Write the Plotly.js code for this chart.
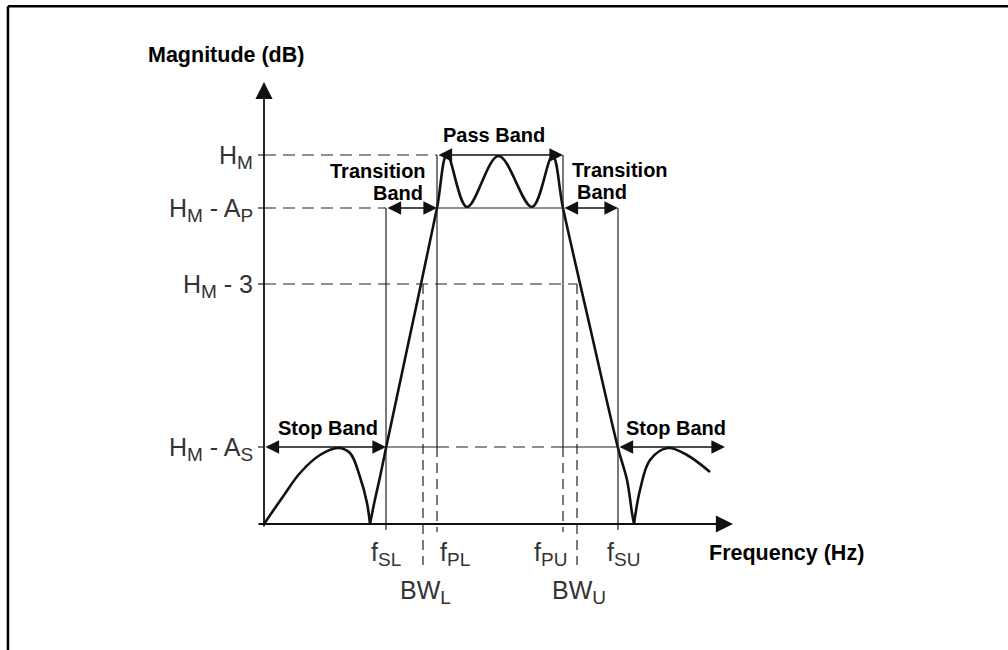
<!DOCTYPE html>
<html>
<head>
<meta charset="utf-8">
<script src="https://cdn.plot.ly/plotly-3.0.1.min.js"></script>
<style>html,body{margin:0;padding:0;background:#fff;}#chart{width:1008px;height:650px;}</style>
</head>
<body>
<div id="chart"></div>
<script>
// ---- data (schematic units: x = frequency, y = magnitude) ----
const levelLabels = ['H<sub>M</sub>', 'H<sub>M</sub> - A<sub>P</sub>', 'H<sub>M</sub> - 3', 'H<sub>M</sub> - A<sub>S</sub>'];
const levelValues = [36.9, 31.6, 24.0, 7.7];
const freqLabels = ['f<sub>SL</sub>', 'f<sub>PL</sub>', 'f<sub>PU</sub>', 'f<sub>SU</sub>'];
const freqValues = [12.2, 17.3, 29.9, 35.4];
const bwLabels = ['BW<sub>L</sub>', 'BW<sub>U</sub>'];
const bwValues = [15.9, 31.3];
const axisTopY = 44.2;
const axisRightX = 46.9;
const stopBandEndX = 46.1;

const leftLobeX = [0, 1.8, 3.6, 5.6, 7.4, 8.6, 9.6, 10.3, 10.6];
const leftLobeY = [0, 2.6, 5.1, 6.9, 7.6, 7.1, 4.7, 2.1, 0];
const mainX = [10.6, 11.0, 11.6, 12.2, 14.8, 17.3, 18.3, 20.3, 23.45, 26.8, 28.85, 29.9, 32.6, 35.4, 36.3, 36.8, 37.0];
const mainY = [0, 2.0, 4.7, 7.6, 19.8, 31.6, 36.9, 31.7, 36.8, 31.7, 36.8, 31.6, 19.7, 7.6, 4.4, 1.1, 0];
const rightLobeX = [37.0, 37.6, 38.6, 40.4, 42.3, 44.6];
const rightLobeY = [0, 3.4, 6.4, 7.6, 6.9, 5.2];

// ---- styles ----
const INK = '#111';
const THIN = '#222';
const FONT = 'Arial, "Liberation Sans", sans-serif';
const HM = levelValues[0], AP = levelValues[1], M3 = levelValues[2], AS = levelValues[3];
const SL = freqValues[0], PL = freqValues[1], PU = freqValues[2], SU = freqValues[3];

const curveLine = {color: INK, width: 2.6, shape: 'spline', smoothing: 1};
const traces = [
  {x: leftLobeX, y: leftLobeY, mode: 'lines', line: curveLine, hoverinfo: 'skip'},
  {x: mainX, y: mainY, mode: 'lines', line: curveLine, hoverinfo: 'skip'},
  {x: rightLobeX, y: rightLobeY, mode: 'lines', line: curveLine, hoverinfo: 'skip'}
];

const shapes = [];
function hline(x0, x1, y, dash) {
  shapes.push({type: 'line', xref: 'x', yref: 'y', x0: x0, x1: x1, y0: y, y1: y,
    line: {color: THIN, width: 1.2, dash: dash || 'solid'}});
}
function vline(x, y0, y1, dash) {
  shapes.push({type: 'line', xref: 'x', yref: 'y', x0: x, x1: x, y0: y0, y1: y1,
    line: {color: THIN, width: 1.2, dash: dash || 'solid'}});
}
const D = '12px,7px';
const DV = '10px,6px';
hline(0, PL, HM, D);
hline(0, SL, AP, D);
hline(PL, PU, AP);
hline(0, bwValues[1], M3, D);
hline(SL, PL, AS);
hline(PL, PU, AS, D);
hline(PU, SU, AS);
vline(SL, AP, -0.6);
vline(SU, AP, -0.6);
vline(PL, HM, AS);
vline(PU, HM, AS);
vline(PL, AS, -0.8, DV);
vline(PU, AS, -0.8, DV);
bwValues.forEach(v => vline(v, M3, -4.1, DV));
levelValues.forEach(v => hline(-0.6, 0, v));
// frame
shapes.push({type: 'line', xref: 'paper', yref: 'paper', x0: 0.0079, x1: 1, y0: 0.9905, y1: 0.9905, line: {color: '#000', width: 2.5}});
shapes.push({type: 'line', xref: 'paper', yref: 'paper', x0: 0.0079, x1: 0.0079, y0: 0, y1: 0.9905, line: {color: '#000', width: 2.5}});

const annotations = [];
function arrow(x0, y0, x1, y1, both, w, s) {
  annotations.push({x: x1, y: y1, ax: x0, ay: y0, xref: 'x', yref: 'y', axref: 'x', ayref: 'y',
    text: '', showarrow: true, arrowhead: 2, startarrowhead: 2, arrowside: both ? 'end+start' : 'end',
    arrowwidth: w, arrowsize: s, startarrowsize: s, arrowcolor: INK, standoff: 0, startstandoff: 0});
}
arrow(0, -0.4, 0, axisTopY, false, 1.8, 1.9);
arrow(-0.7, 0, axisRightX, 0, false, 1.8, 1.9);
arrow(PL, HM, PU, HM, true, 1.6, 1.7);
arrow(SL, AP, PL, AP, true, 1.6, 1.7);
arrow(PU, AP, SU, AP, true, 1.6, 1.7);
arrow(0, AS, SL, AS, true, 1.6, 1.7);
arrow(SU, AS, stopBandEndX, AS, true, 1.6, 1.7);

// enlarge subscripts to match the reference's wide sub-letters
function bigSub(t) { return t.replace(/<sub>(.*?)<\/sub>/g, '<sub><span style="font-size:19px">$1</span></sub>'); }
const regFont = {family: FONT, size: 25, color: '#333'};
levelLabels.forEach((t, i) => annotations.push({x: 0, y: levelValues[i], xref: 'x', yref: 'y', text: bigSub(t),
  showarrow: false, xanchor: 'right', yanchor: 'middle', xshift: -9, yshift: -2, font: regFont}));
const freqAnchor = ['center', 'left', 'right', 'center'];
const freqShift = [0, 1, 6, 5];
freqLabels.forEach((t, i) => annotations.push({x: freqValues[i], y: 0, xref: 'x', yref: 'y', text: bigSub(t),
  showarrow: false, xanchor: freqAnchor[i], yanchor: 'top', xshift: freqShift[i], yshift: -12, font: regFont}));
bwLabels.forEach((t, i) => annotations.push({x: bwValues[i], y: 0, xref: 'x', yref: 'y', text: bigSub(t),
  showarrow: false, xanchor: 'center', yanchor: 'top', xshift: 2, yshift: -50, font: regFont}));

const boldLabels = [
  ['<b>Magnitude (dB)</b>', -3.85, 46.9, 21.5],
  ['<b>Frequency (Hz)</b>', 52.2, -2.9, 21.5],
  ['<b>Pass Band</b>', 23.0, 38.9, 20],
  ['<b>Transition</b>', 11.4, 35.3, 20],
  ['<b>Band</b>', 13.4, 33.1, 20],
  ['<b>Transition</b>', 35.55, 35.45, 20],
  ['<b>Band</b>', 33.75, 33.2, 20],
  ['<b>Stop Band</b>', 6.35, 9.6, 20],
  ['<b>Stop Band</b>', 41.15, 9.6, 20]
];
boldLabels.forEach(b => annotations.push({x: b[1], y: b[2], xref: 'x', yref: 'y', text: b[0], showarrow: false,
  xanchor: 'center', yanchor: 'middle', font: {family: FONT, size: b[3], color: '#000'}}));

const layout = {
  width: 1008, height: 650,
  margin: {l: 0, r: 0, t: 0, b: 0},
  paper_bgcolor: '#fff', plot_bgcolor: '#fff',
  showlegend: false,
  xaxis: {range: [-26.4, 74.4], visible: false, fixedrange: true},
  yaxis: {range: [-12.6, 52.4], visible: false, fixedrange: true},
  shapes: shapes,
  annotations: annotations
};
Plotly.newPlot('chart', traces, layout, {staticPlot: true, displayModeBar: false});
</script>
</body>
</html>
